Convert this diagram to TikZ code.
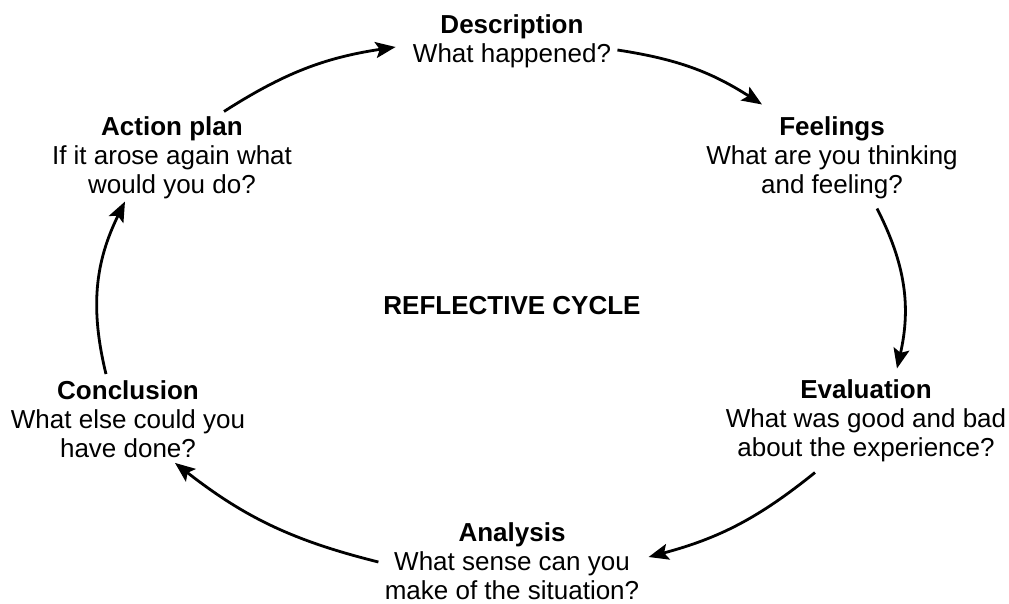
\documentclass[tikz,border=0pt]{standalone}
\usepackage{fontspec}
\setmainfont{Liberation Sans}
\usetikzlibrary{arrows.meta}
\begin{document}
\begin{tikzpicture}[x=0.5pt,y=0.5pt,
  stage/.style={align=center,inner sep=0pt,font=\fontsize{13}{14.5}\selectfont},
  cyc/.style={line width=1.4pt,-{Stealth[length=10pt,width=8pt,inset=2pt]}}]
\useasboundingbox (0,0) rectangle (1009,-604);
\node[stage] (desc) at (512,-41) {\textbf{Description}\\What happened?};
\node[stage] (feel) at (832,-158) {\textbf{Feelings}\\What are you thinking\\and feeling?};
\node[stage] (eval) at (866,-421) {\textbf{Evaluation}\\What was good and bad\\about the experience?};
\node[stage] (anal) at (512,-561) {\textbf{Analysis}\\What sense can you\\make of the situation?};
\node[stage] (concl) at (128,-419) {\textbf{Conclusion}\\What else could you\\have done?};
\node[stage] (act) at (172,-158) {\textbf{Action plan}\\If it arose again what\\would you do?};
\node[stage,font=\bfseries\fontsize{13}{14.5}\selectfont] (title) at (512,-306) {REFLECTIVE CYCLE};
\draw[cyc] ([shift={(52,5)}]act.north) to[bend left=12] ([shift={(-17,-6)}]desc.west);
\draw[cyc] ([shift={(6,-9)}]desc.east) to[bend left=12] ([shift={(-70,12)}]feel.north);
\draw[cyc] ([shift={(45,-9)}]feel.south) to[bend left=20] ([shift={(31,11)}]eval.north);
\draw[cyc] ([shift={(-51,-10)}]eval.south) to[bend left=12] ([shift={(9,4)}]anal.east);
\draw[cyc] ([shift={(-6,-1)}]anal.west) to[bend left=12] ([shift={(47,-5)}]concl.south);
\draw[cyc] ([shift={(-22,6)}]concl.north) to[bend left=20] ([shift={(-47,-2)}]act.south);
\end{tikzpicture}
\end{document}
